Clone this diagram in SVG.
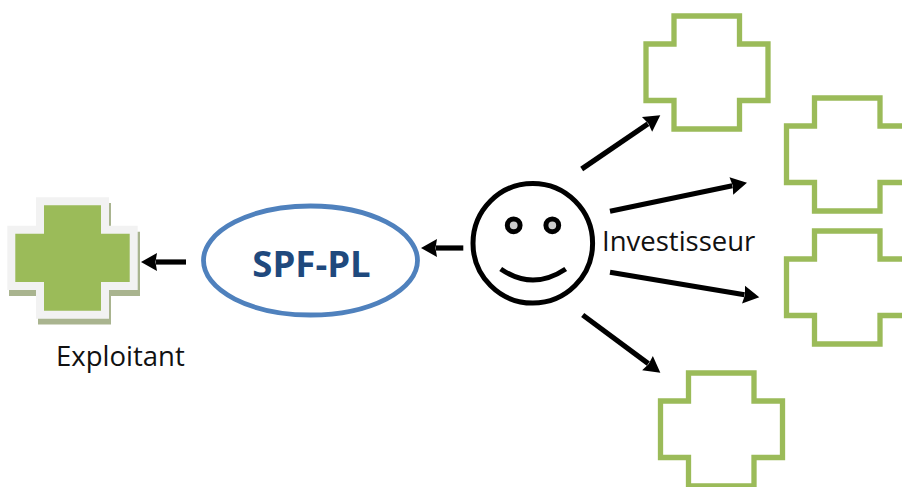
<svg xmlns="http://www.w3.org/2000/svg" width="902" height="487" viewBox="0 0 902 487">
<style>
.plain{fill:none;stroke:#9bbb59;stroke-width:5.300}
.conn{fill:none;stroke:#000;stroke-width:5.200;marker-end:url(#head)}
.face{fill:none;stroke:#000;stroke-width:5}
.eye{fill:#ccc;stroke:#000;stroke-width:5}
.lbl{font-family:"Open Sans","Noto Sans",sans-serif;font-size:27.500px;fill:#111}
</style>
<defs>
<marker id="head" markerUnits="userSpaceOnUse" markerWidth="20" markerHeight="20" refX="1" refY="10" orient="auto" overflow="visible">
<path d="M0 1L16 10L0 19L1.500 10Z" fill="#000"/>
</marker>
<path id="cross" d="M28 0H93.500V28H122V84.500H93.500V113H28V84.500H0V28H28Z"/>
</defs>
<g id="connectors">
<line class="conn" x1="463.300" y1="248" x2="436" y2="248"/>
<line class="conn" x1="186" y1="262" x2="156" y2="262"/>
<line class="conn" x1="581.700" y1="169" x2="647.900" y2="123.800"/>
<line class="conn" x1="610" y1="211.300" x2="732.300" y2="185.800"/>
<line class="conn" x1="610" y1="272.300" x2="744.500" y2="294.800"/>
<line class="conn" x1="582.700" y1="315" x2="648.300" y2="363.700"/>
</g>
<g id="exploitant">
<path fill="#a9b48f" d="M38 203H111V231.700H140V296H111V324.500H38V296H9V231.700H38Z"/>
<path fill="#f2f2f2" d="M36 197.300H109V225.700H137.700V290H109V318.700H36V290H7.300V225.700H36Z"/>
<path fill="#9bbb59" d="M44 205.300H101V233.700H129.700V282H101V310.700H44V282H15.300V233.700H44Z"/>
<text class="lbl" x="56" y="366">Exploitant</text>
</g>
<g id="spf-pl">
<ellipse cx="310.500" cy="260.500" rx="107" ry="54.500" fill="#fff" stroke="#4f81bd" stroke-width="4.800"/>
<text x="311.500" y="277" text-anchor="middle" font-family="'Open Sans','Noto Sans',sans-serif" font-size="36.500" font-weight="700" fill="#1f497d">SPF-PL</text>
</g>
<g id="investisseur">
<circle class="face" cx="532.800" cy="243.300" r="59.800"/>
<circle class="eye" cx="513.700" cy="225.300" r="6.400"/>
<circle class="eye" cx="552.300" cy="225.300" r="6.400"/>
<path class="face" d="M500.700 269Q532.800 291 565.700 269"/>
<text class="lbl" x="602" y="251">Investisseur</text>
</g>
<g id="cross-top"><use href="#cross" class="plain" x="646" y="16"/></g>
<g id="cross-upper"><use href="#cross" class="plain" x="786.500" y="98"/></g>
<g id="cross-lower"><use href="#cross" class="plain" x="786.500" y="231"/></g>
<g id="cross-bottom"><use href="#cross" class="plain" x="660.500" y="373"/></g>
</svg>
